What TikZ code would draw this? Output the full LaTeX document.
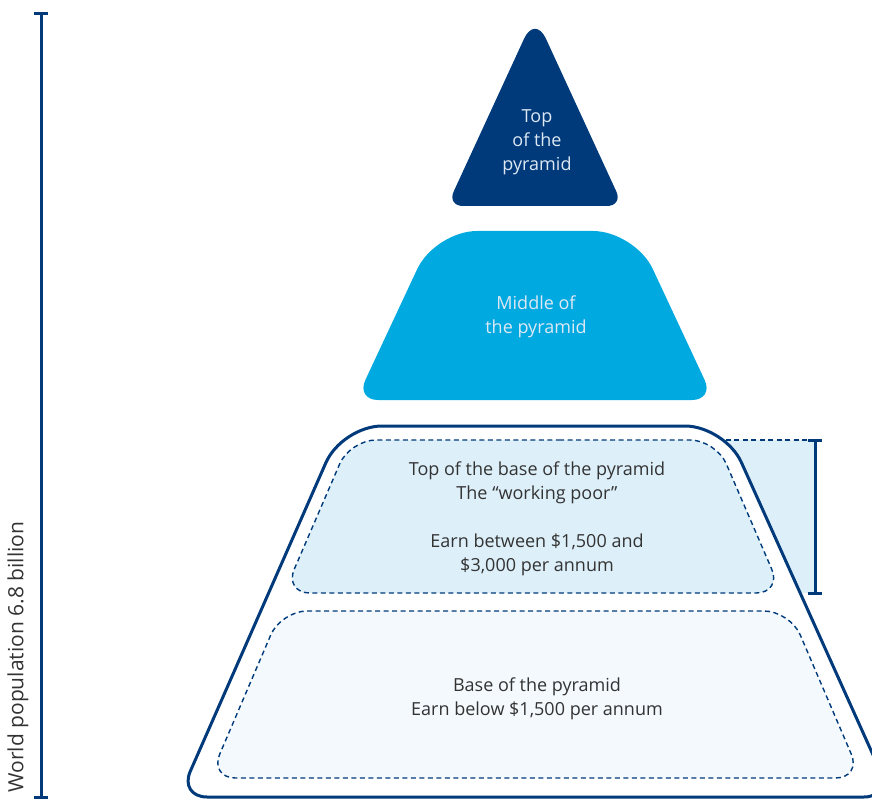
\documentclass[tikz,border=0pt]{standalone}
\usepackage{fontspec}
\setmainfont{Open Sans}
\definecolor{navy}{RGB}{0,58,122}
\definecolor{sky}{RGB}{0,169,224}
\definecolor{paleblue}{RGB}{221,240,250}
\definecolor{palestblue}{RGB}{243,249,253}
\definecolor{ink}{RGB}{51,51,51}
\definecolor{lighttext}{RGB}{222,232,244}
\begin{document}
\begin{tikzpicture}[x=1pt,y=-1pt,
  label/.style={align=center,font=\fontsize{18}{24}\selectfont,inner sep=0pt},
  bracket/.style={draw=navy,line width=3pt},
  dashedband/.style={draw=navy,line width=1.4pt,dash pattern=on 5pt off 3.5pt},
  outline/.style={draw=navy,line width=3pt,fill=white}]
\useasboundingbox (0,0) rectangle (872,799);
\begin{scope}
\clip (0,0) rectangle (872,799);

% population bracket on the left
\coordinate (popTop) at (41,14);
\coordinate (popBot) at (41,797);
\draw[bracket] (popTop) -- (popBot);
\draw[bracket] ([xshift=-7pt]popTop) -- ([xshift=7pt]popTop);
\draw[bracket] ([xshift=-7pt]popBot) -- ([xshift=7pt]popBot);
\node[label,text=ink,rotate=90,font=\fontsize{21}{24}\selectfont] (pop) at (18,657) {World population 6.8 billion};

% top of the pyramid
\fill[navy] (535,206) [rounded corners=16pt] -- (447,206) [rounded corners=26pt] -- (535,15) [rounded corners=16pt] -- (623,206) -- cycle;
\node[label,text=lighttext] (top) at (537,142) {Top\\of the\\pyramid};

% middle of the pyramid
\fill[sky] (535,400) [rounded corners=22pt] -- (356,400) [rounded corners=42pt] -- (435,231) -- (635,231) [rounded corners=22pt] -- (714,400) -- cycle;
\node[label,text=lighttext] (mid) at (536,317) {Middle of\\the pyramid};

% shaded band marking the working poor
\fill[paleblue] (700,440) rectangle (815,593);
\draw[dashedband] (700,440) -- (815,440);

% base of the pyramid, outer outline
\draw[outline] (535,797) [rounded corners=28pt] -- (179,797) [rounded corners=40pt] -- (342,426) -- (725,426) [rounded corners=28pt] -- (892,797) -- cycle;

% upper band of the base
\draw[dashedband,fill=paleblue,rounded corners=26pt] (533,440) -- (716,440) -- (782,593) -- (284,593) -- (350,440) -- cycle;
\node[label,text=ink] (poor) at (537,519) {Top of the base of the pyramid\\The “working poor”\\[24pt]Earn between \$1,500 and\\\$3,000 per annum};

% lower band of the base
\draw[dashedband,fill=palestblue,rounded corners=26pt] (535,611) -- (790,611) -- (861.5,778) -- (209.5,778) -- (281,611) -- cycle;
\node[label,text=ink] (base) at (537,699) {Base of the pyramid\\Earn below \$1,500 per annum};

% bracket beside the working poor band
\coordinate (wpTop) at (815,440);
\coordinate (wpBot) at (815,593);
\draw[bracket] (wpTop) -- (wpBot);
\draw[bracket] ([xshift=-7pt]wpTop) -- ([xshift=7pt]wpTop);
\draw[bracket] ([xshift=-7pt]wpBot) -- ([xshift=7pt]wpBot);
\end{scope}
\end{tikzpicture}
\end{document}
